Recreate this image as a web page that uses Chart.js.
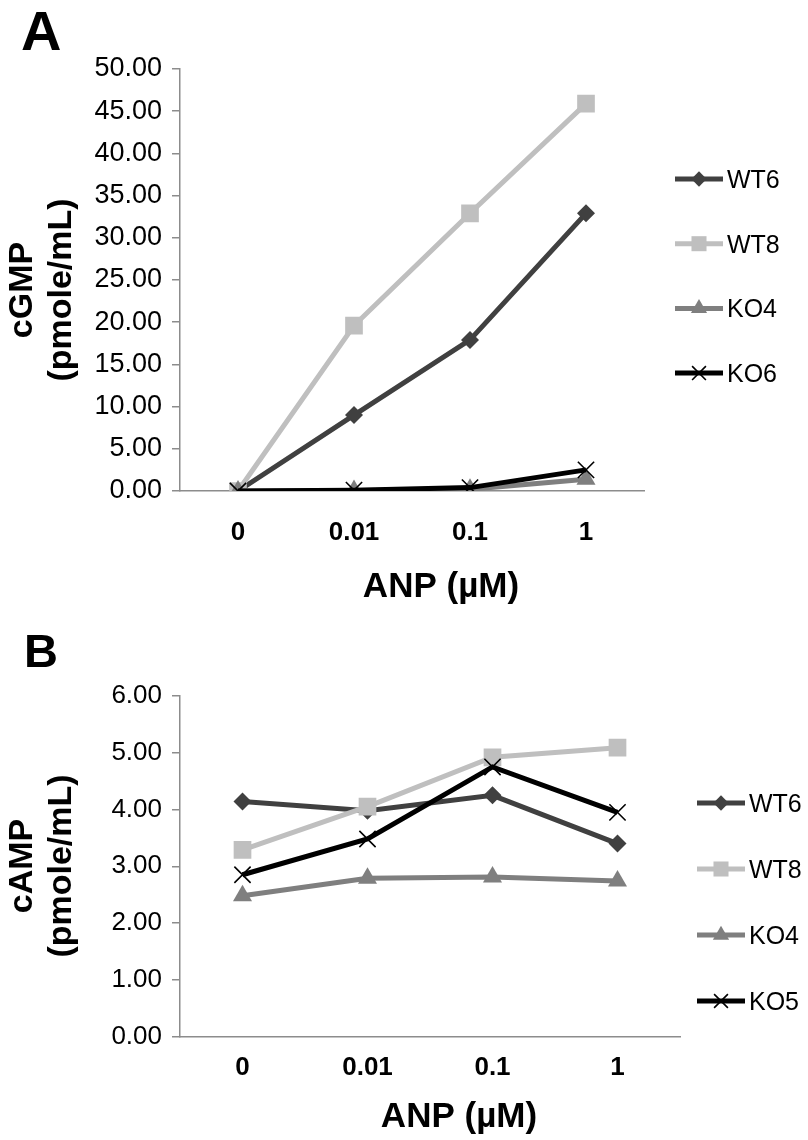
<!DOCTYPE html>
<html>
<head>
<meta charset="utf-8">
<script src="https://cdn.jsdelivr.net/npm/chart.js@4.4.0/dist/chart.umd.min.js"></script>
<style>
  html, body { margin: 0; padding: 0; background: #ffffff; }
  #wrap { position: relative; width: 808px; height: 1140px; background: #fff; }
  canvas { position: absolute; left: 0; display: block; }
</style>
</head>
<body>
<div id="wrap">
  <canvas id="chartA" width="808" height="620" style="top:0px"></canvas>
  <canvas id="chartB" width="808" height="520" style="top:620px"></canvas>
</div>
<script>
// ---------------- DATA ----------------
const doseLabels = ['0', '0.01', '0.1', '1'];

// Panel A: cGMP (pmole/mL)
const namesA = ['WT6', 'WT8', 'KO4', 'KO6'];
const cgmpWT6 = [0.00, 9.00, 17.90, 32.90];
const cgmpWT8 = [0.00, 19.60, 32.90, 45.90];
const cgmpKO4 = [0.00, 0.05, 0.20, 1.40];
const cgmpKO6 = [0.00, 0.10, 0.40, 2.50];
const yTicksA = [0, 5, 10, 15, 20, 25, 30, 35, 40, 45, 50];

// Panel B: cAMP (pmole/mL)
const namesB = ['WT6', 'WT8', 'KO4', 'KO5'];
const campWT6 = [4.14, 3.98, 4.25, 3.40];
const campWT8 = [3.29, 4.05, 4.92, 5.09];
const campKO4 = [2.48, 2.79, 2.81, 2.74];
const campKO5 = [2.85, 3.48, 4.75, 3.95];
const yTicksB = [0, 1, 2, 3, 4, 5, 6];

// ---------------- STYLES ----------------
const FONT = "'Liberation Sans', Arial, Helvetica, sans-serif";
const AXIS_COLOR = '#8c8c8c';
const seriesStyles = [
  { color: '#404040', pointStyle: 'rectRot',  radius: 9,   pbw: 0 },
  { color: '#bfbfbf', pointStyle: 'rect',     radius: 12.5, pbw: 0 },
  { color: '#7f7f7f', pointStyle: 'triangle', radius: 11,  pbw: 0 },
  { color: '#000000', pointStyle: 'crossRot', radius: 11.5, pbw: 1.6 }
];

function makeDatasets(names, valuesList) {
  return names.map((name, i) => {
    const s = seriesStyles[i];
    return {
      label: name,
      data: valuesList[i],
      borderColor: s.color,
      backgroundColor: s.color,
      borderWidth: 5,
      tension: 0,
      pointStyle: s.pointStyle,
      pointRadius: s.radius,
      pointHoverRadius: s.radius,
      pointBackgroundColor: s.color,
      pointBorderColor: s.color,
      pointBorderWidth: s.pbw,
      order: names.length - i
    };
  });
}

// -------- marker drawing for the legend --------
function drawMarker(ctx, style, r, x, y, color, bw) {
  ctx.save();
  ctx.fillStyle = color;
  ctx.strokeStyle = color;
  ctx.lineWidth = bw;
  ctx.beginPath();
  if (style === 'rectRot') {
    ctx.moveTo(x, y - r); ctx.lineTo(x + r, y); ctx.lineTo(x, y + r); ctx.lineTo(x - r, y); ctx.closePath(); ctx.fill();
  } else if (style === 'rect') {
    const h = r * Math.SQRT1_2;
    ctx.rect(x - h, y - h, 2 * h, 2 * h); ctx.fill();
  } else if (style === 'triangle') {
    ctx.moveTo(x, y - r);
    ctx.lineTo(x + r * Math.sin(2 * Math.PI / 3), y - r * Math.cos(2 * Math.PI / 3));
    ctx.lineTo(x + r * Math.sin(4 * Math.PI / 3), y - r * Math.cos(4 * Math.PI / 3));
    ctx.closePath(); ctx.fill();
  } else if (style === 'crossRot') {
    const d = r * Math.SQRT1_2;
    ctx.moveTo(x - d, y - d); ctx.lineTo(x + d, y + d);
    ctx.moveTo(x - d, y + d); ctx.lineTo(x + d, y - d);
    ctx.stroke();
  }
  ctx.restore();
}

// -------- decoration plugin (panel letter, axis titles, legend) --------
function decorPlugin(cfg) {
  return {
    id: 'decor',
    afterDraw(chart) {
      const ctx = chart.ctx;
      const area = chart.chartArea;
      ctx.save();
      ctx.fillStyle = '#000';
      // panel letter
      ctx.font = 'bold ' + cfg.letterSize + 'px ' + FONT;
      ctx.textAlign = 'left';
      ctx.textBaseline = 'alphabetic';
      ctx.fillText(cfg.letter, cfg.letterX, cfg.letterY);
      // x-axis title
      ctx.font = 'bold 35px ' + FONT;
      ctx.textAlign = 'center';
      ctx.fillText(cfg.xTitle, (area.left + area.right) / 2 + cfg.xTitleShift, cfg.xTitleY);
      // y-axis title (two rotated lines)
      ctx.font = 'bold 34px ' + FONT;
      cfg.yTitle.forEach((line, i) => {
        ctx.save();
        ctx.translate(cfg.yTitleX[i], cfg.yTitleCY);
        ctx.rotate(-Math.PI / 2);
        ctx.textAlign = 'center';
        ctx.textBaseline = 'alphabetic';
        ctx.fillText(line, 0, 0);
        ctx.restore();
      });
      // legend
      ctx.font = '25px ' + FONT;
      ctx.textAlign = 'left';
      chart.data.datasets.forEach((ds, i) => {
        const y = cfg.legY0 + i * cfg.legDy;
        ctx.save();
        ctx.strokeStyle = ds.borderColor;
        ctx.lineWidth = ds.borderWidth;
        ctx.beginPath();
        ctx.moveTo(cfg.legX0, y);
        ctx.lineTo(cfg.legX1, y);
        ctx.stroke();
        ctx.restore();
        drawMarker(ctx, ds.pointStyle, ds.pointRadius * 0.85, (cfg.legX0 + cfg.legX1) / 2, y,
                   ds.pointBackgroundColor, ds.pointBorderWidth);
        ctx.fillStyle = '#000';
        ctx.fillText(ds.label, cfg.legX1 + 4, y + 9);
      });
      ctx.restore();
    }
  };
}

function buildChart(canvasId, names, valuesList, yTicks, tickFontSize, geom, decor) {
  const ctx = document.getElementById(canvasId).getContext('2d');
  return new Chart(ctx, {
    type: 'line',
    data: { labels: doseLabels, datasets: makeDatasets(names, valuesList) },
    options: {
      responsive: false,
      animation: false,
      devicePixelRatio: 1,
      events: [],
      layout: { padding: { left: 0, top: geom.top, right: geom.right, bottom: 0 } },
      plugins: { legend: { display: false }, tooltip: { enabled: false }, title: { display: false } },
      scales: {
        x: {
          type: 'category',
          offset: true,
          grid: { display: false, drawTicks: false },
          border: { display: true, color: AXIS_COLOR, width: 1.5 },
          ticks: { color: '#000', padding: geom.xPad, font: { family: FONT, size: 26, weight: 'bold' } },
          afterFit(scale) { scale.height = geom.xHeight; }
        },
        y: {
          min: yTicks[0],
          max: yTicks[yTicks.length - 1],
          afterBuildTicks(scale) { scale.ticks = yTicks.map(v => ({ value: v })); },
          ticks: {
            color: '#000',
            padding: 10,
            font: { family: FONT, size: tickFontSize },
            callback: v => Number(v).toFixed(2)
          },
          grid: { display: true, drawOnChartArea: false, drawTicks: true, tickLength: 8, color: AXIS_COLOR, lineWidth: 1.5 },
          border: { display: true, color: AXIS_COLOR, width: 1.5 },
          afterFit(scale) { scale.width = 180; }
        }
      }
    },
    plugins: [decorPlugin(decor)]
  });
}

buildChart('chartA', namesA, [cgmpWT6, cgmpWT8, cgmpKO4, cgmpKO6], yTicksA, 27,
  { top: 69, right: 164, xHeight: 129, xPad: 26 },
  { letter: 'A', letterSize: 56, letterX: 21, letterY: 50,
    xTitle: 'ANP (\u00B5M)', xTitleShift: 29, xTitleY: 597,
    yTitle: ['cGMP', '(pmole/mL)'], yTitleX: [32, 71], yTitleCY: 290,
    legX0: 675, legX1: 723, legY0: 179, legDy: 64.7 });

buildChart('chartB', namesB, [campWT6, campWT8, campKO4, campKO5], yTicksB, 26,
  { top: 76, right: 128, xHeight: 103.5, xPad: 16 },
  { letter: 'B', letterSize: 47, letterX: 24, letterY: 47,
    xTitle: 'ANP (\u00B5M)', xTitleShift: 29, xTitleY: 507,
    yTitle: ['cAMP', '(pmole/mL)'], yTitleX: [32, 71], yTitleCY: 246,
    legX0: 697, legX1: 745, legY0: 183, legDy: 66 });
</script>
</body>
</html>
